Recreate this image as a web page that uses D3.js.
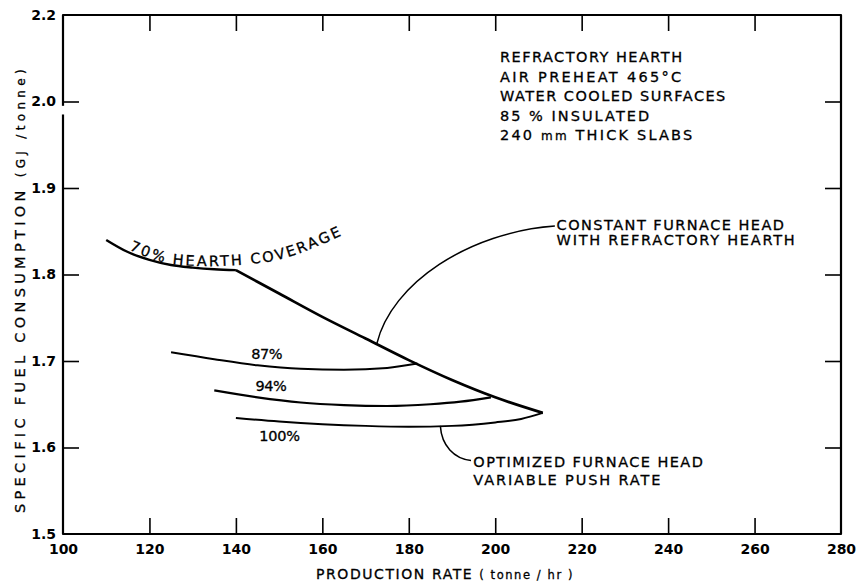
<!DOCTYPE html>
<html>
<head>
<meta charset="utf-8">
<script src="https://cdn.jsdelivr.net/npm/d3@7"></script>
<style>
  html, body { margin: 0; padding: 0; background: #fff; }
  svg { display: block; }
  text { font-family: "DejaVu Sans", sans-serif; fill: #000; }
  .lbl { stroke: #000; stroke-width: 0.3px; }
</style>
</head>
<body>
<svg id="chart" width="858" height="584"></svg>
<script>
// ---------- data ----------
const xTickValues = [100, 120, 140, 160, 180, 200, 220, 240, 260, 280];
const xTickLabels = ["100", "120", "140", "160", "180", "200", "220", "240", "260", "280"];
// y axis is broken: the top tick "2.2" sits one step above 2.0
const yTickValues = [1.5, 1.6, 1.7, 1.8, 1.9, 2.0, 2.1];
const yTickLabels = ["1.5", "1.6", "1.7", "1.8", "1.9", "2.0", "2.2"];

// 70% hearth coverage (constant furnace head, refractory hearth)
const hearth70X = [110, 115, 120, 125, 130, 135, 140];
const hearth70Y = [1.840, 1.826, 1.817, 1.811, 1.808, 1.806, 1.805];
// constant furnace head line continuing from 140 t/hr
const constHeadX = [140, 150, 160, 170, 180, 190, 200, 211];
const constHeadY = [1.805, 1.778, 1.751, 1.726, 1.701, 1.678, 1.658, 1.640];
// optimized furnace head curves
const cov87X = [125, 135, 145, 155, 165, 175, 182];
const cov87Y = [1.710, 1.702, 1.695, 1.691, 1.690, 1.692, 1.697];
const cov94X = [135, 145, 155, 165, 175, 185, 192, 199];
const cov94Y = [1.666, 1.658, 1.652, 1.649, 1.648, 1.650, 1.653, 1.658];
const cov100X = [140, 150, 160, 170, 180, 190, 200, 206, 211];
const cov100Y = [1.634, 1.630, 1.627, 1.625, 1.624, 1.625, 1.629, 1.633, 1.640];

const notes = ["REFRACTORY HEARTH", "AIR PREHEAT 465°C", "WATER COOLED SURFACES", "85 % INSULATED", "240 mm THICK SLABS"];

// ---------- drawing ----------
const svg = d3.select("#chart");
const L = 63, R = 841, T = 15, B = 534;
const x = d3.scaleLinear().domain([100, 280]).range([L, R]);
const y = d3.scaleLinear().domain([1.5, 2.1]).range([B, T]);

const zip = (xs, ys) => xs.map((v, i) => [v, ys[i]]);
const line = d3.line().x(d => x(d[0])).y(d => y(d[1])).curve(d3.curveMonotoneX);

// stretch a text's letter spacing so that it spans a target width
function fit(sel, target) {
  const n = sel.text().length;
  sel.style("letter-spacing", "0px");
  const w = sel.node().getComputedTextLength();
  sel.style("letter-spacing", ((target - w) / n) + "px");
  return sel;
}

// axes (ticks inward, no labels on top/right)
const tick = 16;
const gB = svg.append("g").attr("transform", `translate(0,${B})`)
  .call(d3.axisBottom(x).tickValues(xTickValues).tickFormat((d, i) => xTickLabels[i])
    .tickSizeInner(-tick).tickSizeOuter(0).tickPadding(24));
const gL = svg.append("g").attr("transform", `translate(${L},0)`)
  .call(d3.axisLeft(y).tickValues(yTickValues).tickFormat((d, i) => yTickLabels[i])
    .tickSizeInner(-tick).tickSizeOuter(0).tickPadding(24));
const gT = svg.append("g").attr("transform", `translate(0,${T})`)
  .call(d3.axisTop(x).tickValues(xTickValues).tickFormat("").tickSizeInner(-tick).tickSizeOuter(0));
const gR = svg.append("g").attr("transform", `translate(${R},0)`)
  .call(d3.axisRight(y).tickValues(yTickValues).tickFormat("").tickSizeInner(-tick).tickSizeOuter(0));

[gB, gL, gT, gR].forEach(g => {
  g.select(".domain").remove();
  g.selectAll(".tick line").attr("stroke", "#000").attr("stroke-width", 1.6);
  g.selectAll(".tick text").attr("font-family", "DejaVu Sans").attr("font-size", 14)
    .attr("font-weight", "bold").attr("fill", "#000");
});
gB.selectAll(".tick text").attr("dy", "0.35em").attr("y", 15);
gL.selectAll(".tick text").attr("x", -7);
gB.selectAll(".tick").filter(d => d === 100 || d === 280).select("line").remove();
gT.selectAll(".tick").filter(d => d === 100 || d === 280).select("line").remove();
gL.selectAll(".tick").filter(d => d === 1.5 || d === 2.1).select("line").remove();
gR.selectAll(".tick").filter(d => d === 1.5 || d === 2.1).select("line").remove();

// frame
svg.append("path")
  .attr("d", `M${x(100)},${y(2.1)}H${x(280)}V${y(1.5)}H${x(100)}Z`)
  .attr("fill", "none").attr("stroke", "#000").attr("stroke-width", 2.2)
  .attr("stroke-linejoin", "round");
// axis break just below 2.0
svg.append("rect").attr("x", L - 3).attr("y", y(1.995)).attr("width", 6).attr("height", y(1.985) - y(1.995))
  .attr("fill", "#fff");

// curves
const curves = [
  [zip(hearth70X, hearth70Y), 2.4],
  [zip(constHeadX, constHeadY), 2.7],
  [zip(cov87X, cov87Y), 2.0],
  [zip(cov94X, cov94Y), 2.2],
  [zip(cov100X, cov100Y), 2.0]
];
curves.forEach(([pts, w]) => {
  svg.append("path").attr("d", line(pts)).attr("fill", "none")
    .attr("stroke", "#000").attr("stroke-width", w).attr("stroke-linejoin", "round");
});

// curved label "70% HEARTH COVERAGE"
const labelPath = [[115.3, 1.8285], [124.6, 1.8125], [142, 1.8115], [152.4, 1.8205], [167.5, 1.852]];
svg.append("path").attr("id", "hpath")
  .attr("d", d3.line().x(d => x(d[0])).y(d => y(d[1])).curve(d3.curveCatmullRom)(labelPath))
  .attr("fill", "none");
svg.append("text").attr("class", "lbl").attr("font-size", 14.5).style("letter-spacing", "2.2px")
  .append("textPath").attr("href", "#hpath").text("70% HEARTH COVERAGE");

// percent labels
const pctLabels = [["87%", 147.1, 1.7023], ["94%", 148.1, 1.6653], ["100%", 150.1, 1.6075]];
pctLabels.forEach(([t, vx, vy]) => {
  const s = svg.append("text").attr("class", "lbl").attr("x", x(vx)).attr("y", y(vy))
    .attr("text-anchor", "middle").attr("font-size", 14.5).text(t);
  fit(s, t.length * 10.2);
});

// notes block
notes.forEach((t, i) => {
  const s = svg.append("text").attr("class", "lbl").attr("font-size", 14.5)
    .attr("x", x(201.1)).attr("y", y(2.0453) + i * 19.4);
  if (t.includes(" mm ")) {
    const [a, b] = t.split(" mm ");
    s.append("tspan").text(a + " ");
    s.append("tspan").attr("font-size", 12).text("mm");
    s.append("tspan").text(" " + b);
  } else s.text(t);
  fit(s, t.length * 10.8);
});

// constant furnace head annotation
[["CONSTANT FURNACE HEAD", 1.852], ["WITH REFRACTORY HEARTH", 1.8341]].forEach(([t, vy]) => {
  const s = svg.append("text").attr("class", "lbl").attr("font-size", 14.5)
    .attr("x", x(214.2)).attr("y", y(vy)).text(t);
  fit(s, t.length * 10.9);
});
const lp1 = d3.path();
lp1.moveTo(x(213.8), y(1.856));
lp1.bezierCurveTo(x(194), y(1.849), x(176), y(1.790), x(172.6), y(1.720));
svg.append("path").attr("d", lp1.toString()).attr("fill", "none").attr("stroke", "#000").attr("stroke-width", 1.5);

// optimized furnace head annotation
[["OPTIMIZED FURNACE HEAD", 1.5775], ["VARIABLE PUSH RATE", 1.5572]].forEach(([t, vy]) => {
  const s = svg.append("text").attr("class", "lbl").attr("font-size", 14.5)
    .attr("x", x(194.93)).attr("y", y(vy)).text(t);
  fit(s, t.length * 10.5);
});
const lp2 = d3.path();
lp2.moveTo(x(187.3), y(1.625));
lp2.bezierCurveTo(x(187.6), y(1.602), x(190.5), y(1.587), x(194.4), y(1.585));
svg.append("path").attr("d", lp2.toString()).attr("fill", "none").attr("stroke", "#000").attr("stroke-width", 1.5);

// axis titles
const xt = svg.append("text").attr("class", "lbl").attr("x", 316).attr("y", 579)
  .attr("font-size", 14);
xt.append("tspan").text("PRODUCTION RATE ");
xt.append("tspan").attr("font-size", 11.5).text("( tonne / hr )");
fit(xt, 258);

const yt = svg.append("text").attr("class", "lbl").attr("transform", "translate(25,513) rotate(-90)")
  .attr("font-size", 14.5);
yt.append("tspan").text("SPECIFIC FUEL CONSUMPTION ");
yt.append("tspan").attr("font-size", 12).text("(GJ /tonne)");
fit(yt, 448);
</script>
</body>
</html>
